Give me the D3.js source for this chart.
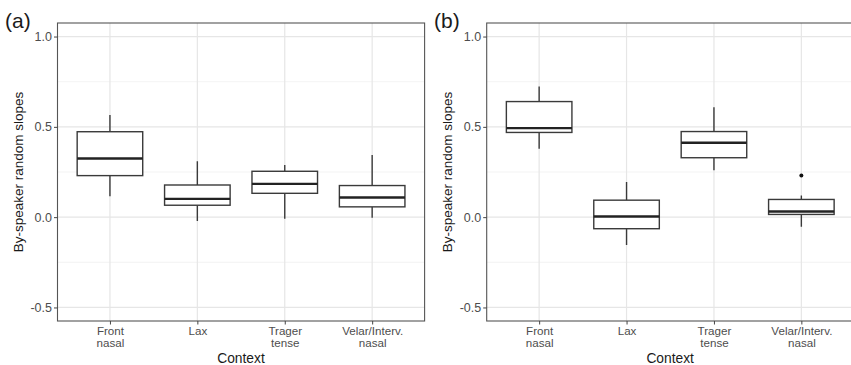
<!DOCTYPE html>
<html>
<head>
<meta charset="utf-8">
<script src="https://cdn.jsdelivr.net/npm/d3@7"></script>
<style>
  html, body { margin: 0; padding: 0; background: #fff; }
  svg { display: block; font-family: "Liberation Sans", Arial, sans-serif; }
</style>
</head>
<body>
<svg id="chart" width="851" height="365"></svg>
<script>
// Context categories (line breaks split the tick labels)
const categories = ["Front\nnasal", "Lax", "Trager\ntense", "Velar/Interv.\nnasal"];

// Panel (a): box-plot summaries of by-speaker random slopes
const aLower  = [0.116, -0.022, -0.009, -0.004];
const aQ1     = [0.230,  0.066,  0.132,  0.057];
const aMedian = [0.325,  0.101,  0.184,  0.109];
const aQ3     = [0.473,  0.178,  0.254,  0.175];
const aUpper  = [0.566,  0.309,  0.289,  0.344];
const aOutliers = [[], [], [], []];

// Panel (b)
const bLower  = [0.379, -0.154, 0.259, -0.053];
const bQ1     = [0.469, -0.064, 0.329,  0.015];
const bMedian = [0.493,  0.004, 0.412,  0.031];
const bQ3     = [0.640,  0.094, 0.474,  0.098];
const bUpper  = [0.724,  0.195, 0.608,  0.120];
const bOutliers = [[], [], [], [0.230]];

// Axis ticks
const yMajor = [-0.5, 0, 0.5, 1.0];
const yTickLabels = ["-0.5", "0.0", "0.5", "1.0"];
const yMinor = [-0.25, 0.25, 0.75];
const yDomain = [-0.575, 1.075];

const panelTitles = ["(a)", "(b)"];
const yTitle = "By-speaker random slopes";
const xTitle = "Context";

const svg = d3.select("#chart");

function buildRows(lower, q1, med, q3, upper, outs) {
  return categories.map((c, i) => ({
    cat: c, lower: lower[i], q1: q1[i], median: med[i], q3: q3[i], upper: upper[i], outliers: outs[i]
  }));
}

const panels = [
  { label: panelTitles[0], left: 57.5, right: 424.6, labelX: 5,
    rows: buildRows(aLower, aQ1, aMedian, aQ3, aUpper, aOutliers) },
  { label: panelTitles[1], left: 486.7, right: 853.8, labelX: 434,
    rows: buildRows(bLower, bQ1, bMedian, bQ3, bUpper, bOutliers) }
];

const plotTop = 23, plotBottom = 321;

panels.forEach(p => {
  const g = svg.append("g");

  const x = d3.scalePoint().domain(categories).range([p.left, p.right]).padding(0.6);
  const y = d3.scaleLinear().domain(yDomain).range([plotBottom, plotTop]);
  const boxW = x.step() * 0.75;

  // clip to the panel area
  const clipId = "clip" + p.label.replace(/\W/g, "");
  svg.append("clipPath").attr("id", clipId)
    .append("rect").attr("x", p.left).attr("y", plotTop)
    .attr("width", p.right - p.left).attr("height", plotBottom - plotTop);

  const grid = g.append("g").attr("clip-path", `url(#${clipId})`);
  grid.selectAll("line.minor").data(yMinor).join("line")
    .attr("x1", p.left).attr("x2", p.right)
    .attr("y1", d => y(d)).attr("y2", d => y(d))
    .attr("stroke", "#f0f0f0").attr("stroke-width", 0.8);
  grid.selectAll("line.major").data(yMajor).join("line")
    .attr("x1", p.left).attr("x2", p.right)
    .attr("y1", d => y(d)).attr("y2", d => y(d))
    .attr("stroke", "#e6e6e6").attr("stroke-width", 1.2);
  grid.selectAll("line.vmajor").data(categories).join("line")
    .attr("x1", d => x(d)).attr("x2", d => x(d))
    .attr("y1", plotTop).attr("y2", plotBottom)
    .attr("stroke", "#e6e6e6").attr("stroke-width", 1.2);

  // boxes
  const boxes = g.append("g").attr("clip-path", `url(#${clipId})`)
    .selectAll("g").data(p.rows).join("g");
  const lineColor = "#3a3a3a";
  boxes.append("line")
    .attr("x1", d => x(d.cat)).attr("x2", d => x(d.cat))
    .attr("y1", d => y(d.upper)).attr("y2", d => y(d.q3))
    .attr("stroke", lineColor).attr("stroke-width", 1.4);
  boxes.append("line")
    .attr("x1", d => x(d.cat)).attr("x2", d => x(d.cat))
    .attr("y1", d => y(d.q1)).attr("y2", d => y(d.lower))
    .attr("stroke", lineColor).attr("stroke-width", 1.4);
  boxes.append("rect")
    .attr("x", d => x(d.cat) - boxW / 2).attr("width", boxW)
    .attr("y", d => y(d.q3)).attr("height", d => y(d.q1) - y(d.q3))
    .attr("fill", "#fff").attr("stroke", lineColor).attr("stroke-width", 1.4);
  boxes.append("line")
    .attr("x1", d => x(d.cat) - boxW / 2).attr("x2", d => x(d.cat) + boxW / 2)
    .attr("y1", d => y(d.median)).attr("y2", d => y(d.median))
    .attr("stroke", "#222").attr("stroke-width", 2.4);
  boxes.selectAll("circle").data(d => d.outliers.map(v => ({ cat: d.cat, v }))).join("circle")
    .attr("cx", d => x(d.cat)).attr("cy", d => y(d.v)).attr("r", 2)
    .attr("fill", "#111");

  // panel border
  g.append("rect").attr("x", p.left).attr("y", plotTop)
    .attr("width", p.right - p.left).attr("height", plotBottom - plotTop)
    .attr("fill", "none").attr("stroke", "#555").attr("stroke-width", 1.1);

  // y axis
  const yAxis = g.append("g").attr("transform", `translate(${p.left},0)`)
    .call(d3.axisLeft(y).tickValues(yMajor)
      .tickFormat((d, i) => yTickLabels[i]).tickSize(3.5).tickPadding(2));
  yAxis.select(".domain").remove();
  yAxis.selectAll(".tick line").attr("stroke", "#444");
  yAxis.selectAll(".tick text").attr("fill", "#4d4d4d")
    .style("font-size", "12.5px").attr("font-family", "Liberation Sans, Arial, sans-serif");

  // x axis
  const xAxis = g.append("g").attr("transform", `translate(0,${plotBottom})`)
    .call(d3.axisBottom(x).tickSize(3.5).tickFormat(""));
  xAxis.select(".domain").remove();
  xAxis.selectAll(".tick line").attr("stroke", "#444");
  xAxis.selectAll(".tick").each(function (d) {
    const t = d3.select(this).append("text")
      .attr("fill", "#4d4d4d").attr("text-anchor", "middle")
      .style("font-size", "11.6px").attr("font-family", "Liberation Sans, Arial, sans-serif");
    d.split("\n").forEach((line, i) => {
      t.append("tspan").attr("x", 0).attr("y", 13.5 + i * 12.5).text(line);
    });
  });

  // titles
  g.append("text")
    .attr("transform", `translate(${p.left - 39},${(plotTop + plotBottom) / 2}) rotate(-90)`)
    .attr("text-anchor", "middle").attr("dy", "0.35em")
    .style("font-size", "13.5px").attr("fill", "#1a1a1a")
    .text(yTitle);
  g.append("text")
    .attr("x", p.left + 183.5).attr("y", 362.5)
    .attr("text-anchor", "middle")
    .style("font-size", "13.8px").attr("fill", "#1a1a1a")
    .text(xTitle);
  g.append("text")
    .attr("x", p.labelX).attr("y", 28)
    .style("font-size", "21px").attr("fill", "#1a1a1a")
    .text(p.label);
});
</script>
</body>
</html>
